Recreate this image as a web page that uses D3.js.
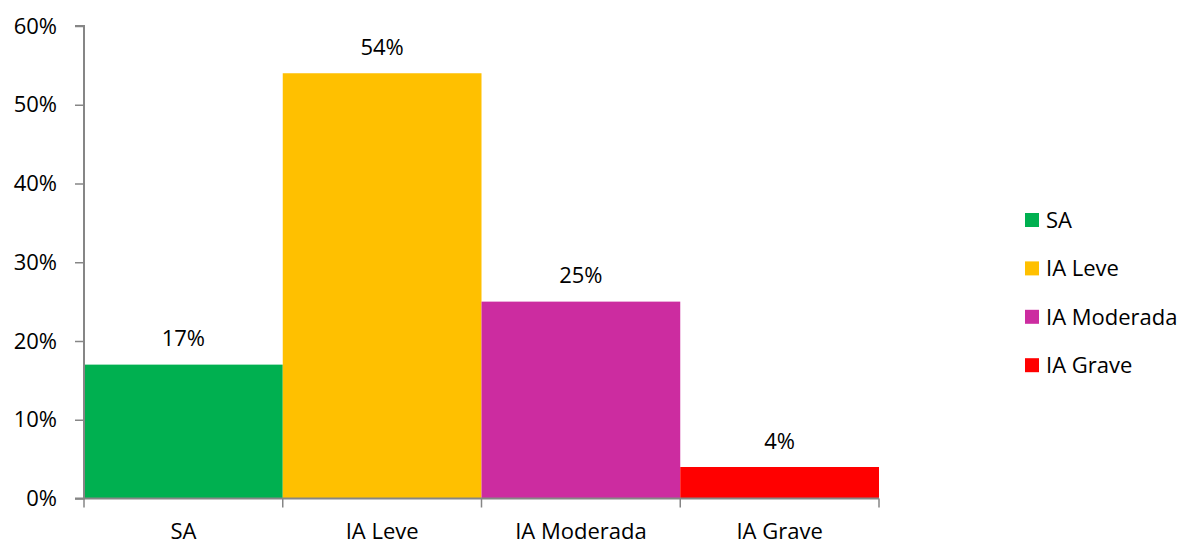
<!DOCTYPE html>
<head>
<meta charset="utf-8">
<script src="https://d3js.org/d3.v7.min.js"></script>
<style>
  body { margin: 0; background: #fff; }
  text { font-family: "Open Sans", sans-serif; fill: #000; }
</style>
</head>
<body>
<script>
const categories = ["SA", "IA Leve", "IA Moderada", "IA Grave"];
const values = [17, 54, 25, 4];
const colors = ["#00B050", "#FFC000", "#CC2CA0", "#FF0000"];
const yTicks = [0, 10, 20, 30, 40, 50, 60];

const width = 1188, height = 542;
const plotLeft = 84, plotRight = 879, plotTop = 26, plotBottom = 498.5;
const fontSize = "22px";

const svg = d3.select("body").append("svg")
    .attr("width", width)
    .attr("height", height);

const x = d3.scaleBand().domain(categories).range([plotLeft, plotRight]).padding(0);
const y = d3.scaleLinear().domain([0, 60]).range([plotBottom, plotTop]);

// bars
svg.selectAll("rect.bar")
    .data(values)
    .enter().append("rect")
    .attr("x", (d, i) => x(categories[i]))
    .attr("y", d => y(d))
    .attr("width", x.bandwidth())
    .attr("height", d => plotBottom - y(d))
    .attr("fill", (d, i) => colors[i]);

// value labels
svg.selectAll("text.val")
    .data(values)
    .enter().append("text")
    .attr("x", (d, i) => x(categories[i]) + x.bandwidth() / 2)
    .attr("y", d => y(d) - 18.5)
    .attr("text-anchor", "middle")
    .style("font-size", fontSize)
    .text(d => d + "%");

// y axis
const yAxis = svg.append("g")
    .attr("transform", `translate(${plotLeft},0)`)
    .call(d3.axisLeft(y).tickValues(yTicks).tickSize(9).tickPadding(18).tickFormat(d => d + "%"));
yAxis.select(".domain").attr("d", `M-9,${plotTop}H0V${plotBottom}H-9`);

// x axis
const xAxis = svg.append("g")
    .attr("transform", `translate(0,${plotBottom})`)
    .call(d3.axisBottom(x).tickSize(0));
xAxis.select(".domain").remove();
xAxis.selectAll(".tick text").attr("y", 40.5).attr("dy", 0);
xAxis.append("path")
    .attr("d", `M${plotLeft},0H${plotRight}`)
    .attr("stroke", "#868686").attr("stroke-width", 2).attr("fill", "none");
const bounds = categories.map(c => x(c)).concat([plotRight]);
xAxis.selectAll("line.sep")
    .data(bounds)
    .enter().append("line")
    .attr("x1", d => d).attr("x2", d => d)
    .attr("y1", 0).attr("y2", 9)
    .attr("stroke", "#868686").attr("stroke-width", 1.5);

svg.selectAll(".tick line").attr("stroke", "#868686").attr("stroke-width", 1.5);
yAxis.select(".domain").attr("stroke", "#868686").attr("stroke-width", 2);
svg.selectAll(".tick text").style("font-size", fontSize).style("font-family", "'Open Sans', sans-serif").attr("fill", "#000");

// legend
const legend = svg.append("g").attr("transform", "translate(1025,220)");
const rows = legend.selectAll("g")
    .data(categories)
    .enter().append("g")
    .attr("transform", (d, i) => `translate(0,${i * 48.4})`);
rows.append("rect")
    .attr("x", 0).attr("y", -7)
    .attr("width", 14).attr("height", 14)
    .attr("fill", (d, i) => colors[i]);
rows.append("text")
    .attr("x", 21).attr("dy", "0.36em")
    .style("font-size", fontSize)
    .text(d => d);
</script>
</body>
